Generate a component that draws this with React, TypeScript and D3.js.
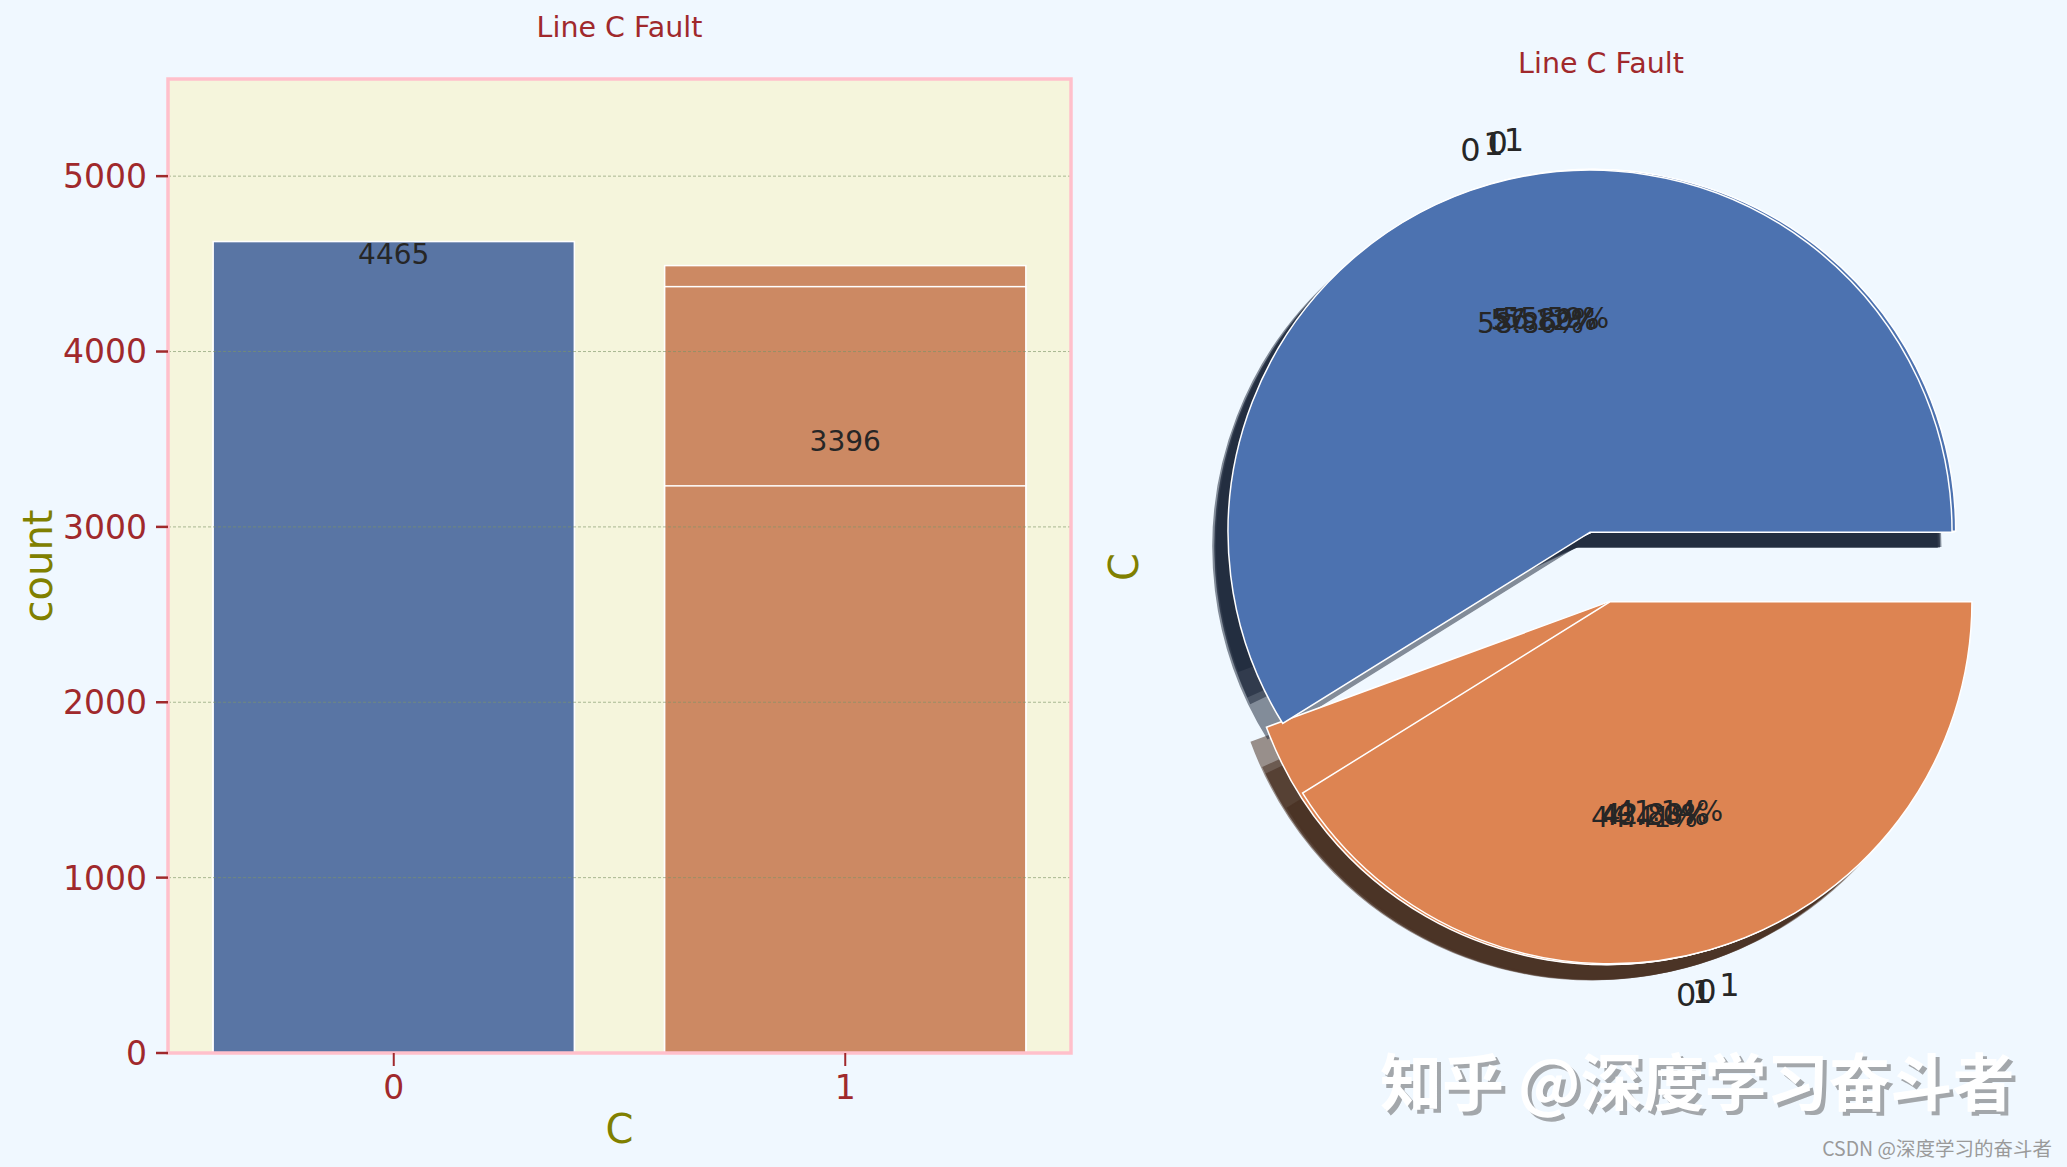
import React from 'react';
import * as d3 from 'd3';

// categories of column C and counts for every plot drawn on top of each other
const categories = ['0', '1'];
const zeroCounts = [4465, 3371, 3491, 4627];
const oneCounts = [3396, 4490, 4370, 3234];
const annotatedCounts = [4465, 3396];
const yTicks = [0, 1000, 2000, 3000, 4000, 5000];

const W = 2067;
const H = 1167;
const BROWN = '#a0292c';
const OLIVE = '#808000';
const INK = '#262626';
const FONT = 'DejaVu Sans, sans-serif';
const barColors = ['#5975a4', '#cc8963'];
const pieColors = ['#4c72b0', '#dd8452'];

const frame = { left: 168, right: 1071, top: 79, bottom: 1053 };
const yMax = 5554;

const x = d3
  .scaleBand()
  .domain(categories)
  .range([frame.left, frame.right])
  .paddingInner(0.2)
  .paddingOuter(0.1);
const y = d3.scaleLinear().domain([0, yMax]).range([frame.bottom, frame.top]);

const pieC = { x: 1600, y: 567, r: 362 };
const explode = 0.1;
const shadowShift = 15;

const arc = d3.arc<any>().innerRadius(0).outerRadius(pieC.r);
// matplotlib style: start at 3 o'clock and run counter-clockwise
const pie = d3
  .pie<any>()
  .sort(null)
  .value(d => d.value)
  .startAngle(Math.PI / 2)
  .endAngle(Math.PI / 2 - 2 * Math.PI);

const pieLayers = zeroCounts.map((c0, i) => {
  const rows = categories
    .map((label, j) => ({ label, value: j === 0 ? c0 : oneCounts[i] }))
    .sort((a, b) => b.value - a.value);
  const total = d3.sum(rows, r => r.value);
  return pie(rows).map((a, j) => {
    const mid = (a.startAngle + a.endAngle) / 2;
    const sx = Math.sin(mid);
    const sy = -Math.cos(mid);
    return {
      a,
      j,
      label: a.data.label,
      pct: ((a.data.value / total) * 100).toFixed(2) + '%',
      cx: pieC.x + explode * pieC.r * sx,
      cy: pieC.y + explode * pieC.r * sy,
      sx,
      sy,
    };
  });
});
const wedges = pieLayers.flat();

const shade = (c: string) => {
  const k = d3.rgb(c);
  return d3.rgb(k.r * 0.3, k.g * 0.3, k.b * 0.3).formatHex();
};

export default function App() {
  return (
    <div style={{ position: 'absolute', left: 0, top: 0 }}>
      <svg width={W} height={H} style={{ display: 'block', background: '#f0f8ff' }}>
        {/* ---------- count plot ---------- */}
        <text x={(frame.left + frame.right) / 2} y={37} textAnchor="middle"
          fontFamily={FONT} fontSize={28.5} fill={BROWN}>Line C Fault</text>
        <rect x={frame.left} y={frame.top} width={frame.right - frame.left}
          height={frame.bottom - frame.top} fill="#f5f5dc" />

        {zeroCounts.map((c0, i) =>
          categories.map((cat, j) => {
            const v = j === 0 ? c0 : oneCounts[i];
            return (
              <rect key={`b${i}${j}`} x={x(cat)} y={y(v)} width={x.bandwidth()}
                height={y(0) - y(v)} fill={barColors[j]} stroke="#fff" strokeWidth={1.5} />
            );
          })
        )}

        {yTicks.slice(1).map(t => (
          <line key={`g${t}`} x1={frame.left} x2={frame.right} y1={y(t)} y2={y(t)}
            stroke="#7d9468" strokeOpacity={0.7} strokeWidth={0.9} strokeDasharray="3 2" />
        ))}

        {annotatedCounts.map((v, j) => (
          <text key={`a${j}`} x={(x(categories[j]) as number) + x.bandwidth() / 2} y={y(v) - 6}
            textAnchor="middle" fontFamily={FONT} fontSize={28} fill={INK}>{v}</text>
        ))}

        <rect x={frame.left} y={frame.top} width={frame.right - frame.left}
          height={frame.bottom - frame.top} fill="none" stroke="#ffc0cb" strokeWidth={3.5} />

        {yTicks.map(t => (
          <g key={`y${t}`}>
            <line x1={frame.left - 12} x2={frame.left} y1={y(t)} y2={y(t)} stroke={BROWN} strokeWidth={2.5} />
            <text x={frame.left - 21} y={y(t)} dy="0.36em" textAnchor="end"
              fontFamily={FONT} fontSize={33} fill={BROWN}>{t}</text>
          </g>
        ))}
        {categories.map(cat => {
          const cx = (x(cat) as number) + x.bandwidth() / 2;
          return (
            <g key={`x${cat}`}>
              <line x1={cx} x2={cx} y1={frame.bottom} y2={frame.bottom + 13} stroke={BROWN} strokeWidth={2} />
              <text x={cx} y={1099} textAnchor="middle" fontFamily={FONT} fontSize={33} fill={BROWN}>{cat}</text>
            </g>
          );
        })}
        <text x={(frame.left + frame.right) / 2} y={1143} textAnchor="middle"
          fontFamily={FONT} fontSize={40} fill={OLIVE}>C</text>
        <text transform={`translate(52,${(frame.top + frame.bottom) / 2}) rotate(-90)`}
          textAnchor="middle" fontFamily={FONT} fontSize={40} fill={OLIVE}>count</text>

        {/* ---------- pie ---------- */}
        <text x={1601} y={73} textAnchor="middle" fontFamily={FONT} fontSize={28.5} fill={BROWN}>Line C Fault</text>
        <text transform={`translate(1138,${pieC.y}) rotate(-90)`} textAnchor="middle"
          fontFamily={FONT} fontSize={40} fill={OLIVE}>C</text>

        {wedges.map((w, k) => (
          <path key={`s${k}`} d={arc(w.a) as string}
            transform={`translate(${w.cx - shadowShift},${w.cy + shadowShift})`}
            fill={shade(pieColors[w.j])} stroke={shade(pieColors[w.j])} strokeWidth={1.5} opacity={0.5} />
        ))}
        {wedges.map((w, k) => (
          <path key={`w${k}`} d={arc(w.a) as string} transform={`translate(${w.cx},${w.cy})`}
            fill={pieColors[w.j]} stroke="#fff" strokeWidth={1.5} />
        ))}
        {wedges.map((w, k) => (
          <g key={`t${k}`} fontFamily={FONT} fill={INK}>
            <text x={w.cx + 1.1 * pieC.r * w.sx} y={w.cy + 1.1 * pieC.r * w.sy} dy="0.36em"
              textAnchor={w.sx < 0 ? 'end' : 'start'} fontSize={32}>{w.label}</text>
            <text x={w.cx + 0.6 * pieC.r * w.sx} y={w.cy + 0.6 * pieC.r * w.sy} dy="0.36em"
              textAnchor="middle" fontSize={28}>{w.pct}</text>
          </g>
        ))}

        {/* ---------- watermarks ---------- */}
        <g fontFamily="Noto Sans CJK SC, sans-serif" fontWeight="bold" fontSize={62}>
          <text x={1384} y={1110} fill="#a3a7ab">知乎 @深度学习奋斗者</text>
          <text x={1380} y={1106} fill="#ffffff">知乎 @深度学习奋斗者</text>
        </g>
        <text x={2052} y={1156} textAnchor="end" fontFamily="Noto Sans CJK SC, sans-serif"
          fontSize={19.5} fill="#9a9a9a">CSDN @深度学习的奋斗者</text>
      </svg>
    </div>
  );
}
